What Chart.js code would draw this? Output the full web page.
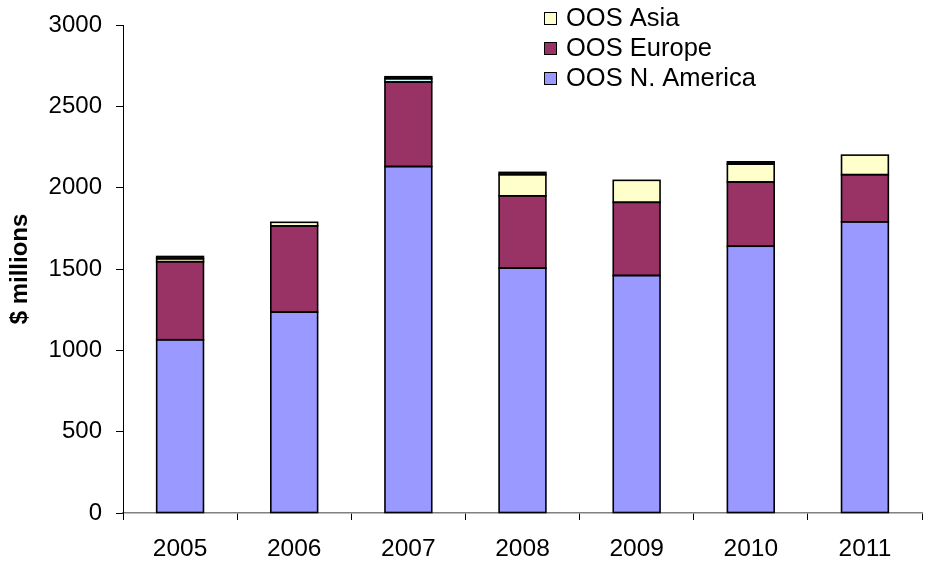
<!DOCTYPE html>
<html>
<head>
<meta charset="utf-8">
<script src="https://cdn.jsdelivr.net/npm/chart.js@4.4.0/dist/chart.umd.min.js"></script>
<style>
  html, body { margin: 0; padding: 0; background: #ffffff; }
  #wrap { width: 930px; height: 565px; position: relative; }
</style>
</head>
<body>
<div id="wrap"><canvas id="c" width="930" height="565"></canvas></div>
<script>
// Out-of-state revenue by region, $ millions
const years = ['2005', '2006', '2007', '2008', '2009', '2010', '2011'];
const naValues = [1065, 1235, 2130, 1505, 1460, 1640, 1790];
const europeValues = [480, 530, 520, 445, 450, 395, 290];
const asiaValues = [18, 22, 20, 130, 135, 110, 120];
const otherValues = [14, 0, 12, 14, 0, 14, 0];
const yTicks = [0, 500, 1000, 1500, 2000, 2500, 3000];

const FONT = "'Liberation Sans', Arial, sans-serif";

// Asia segments are pale yellow, except the 2007 one which is pale cyan
const asiaColors = years.map(y => (y === '2007' ? '#CCFFFF' : '#FFFFCC'));

const barStyle = {
  borderWidth: 0,
  barPercentage: 0.41,
  categoryPercentage: 1.0
};

// Crisp black outline round every stacked segment
const segmentOutline = {
  id: 'segmentOutline',
  afterDatasetsDraw(chart) {
    const ctx = chart.ctx;
    ctx.save();
    ctx.strokeStyle = '#000000';
    ctx.lineWidth = 1.6;
    chart.data.datasets.forEach((ds, di) => {
      const meta = chart.getDatasetMeta(di);
      meta.data.forEach((bar, i) => {
        if (!ds.data[i]) return;
        const p = bar.getProps(['x', 'y', 'base', 'width'], true);
        const left = p.x - p.width / 2;
        const top = Math.min(p.y, p.base);
        const h = Math.abs(p.base - p.y);
        ctx.strokeRect(left, top, p.width, h);
      });
    });
    ctx.restore();
  }
};

// Simple stacked legend, drawn in the upper right of the plot
const boxLegend = {
  id: 'boxLegend',
  afterDraw(chart) {
    const ctx = chart.ctx;
    const items = [
      { label: 'OOS Asia', color: '#FFFFCC' },
      { label: 'OOS Europe', color: '#993366' },
      { label: 'OOS N. America', color: '#9999FF' }
    ];
    ctx.save();
    ctx.font = '25.5px ' + FONT;
    ctx.textBaseline = 'middle';
    ctx.textAlign = 'left';
    items.forEach((it, i) => {
      const cy = 18 + i * 30;
      ctx.fillStyle = it.color;
      ctx.fillRect(544, cy - 6, 13, 13);
      ctx.strokeStyle = '#000000';
      ctx.lineWidth = 1;
      ctx.strokeRect(544.5, cy - 5.5, 12, 12);
      ctx.fillStyle = '#000000';
      ctx.fillText(it.label, 566, cy + 1);
    });
    ctx.restore();
  }
};

new Chart(document.getElementById('c'), {
  type: 'bar',
  data: {
    labels: years,
    datasets: [
      Object.assign({ label: 'OOS N. America', data: naValues, backgroundColor: '#9999FF' }, barStyle),
      Object.assign({ label: 'OOS Europe', data: europeValues, backgroundColor: '#993366' }, barStyle),
      Object.assign({ label: 'OOS Asia', data: asiaValues, backgroundColor: asiaColors }, barStyle),
      Object.assign({ label: 'Other', data: otherValues, backgroundColor: '#111111' }, barStyle)
    ]
  },
  options: {
    responsive: false,
    animation: false,
    layout: { padding: { top: 25, right: 8, left: 0, bottom: 0 } },
    plugins: {
      legend: { display: false },
      tooltip: { enabled: false }
    },
    scales: {
      x: {
        stacked: true,
        border: { display: true, color: '#808080', width: 1.5 },
        grid: { display: true, drawOnChartArea: false, offset: true, tickLength: 7, color: '#000000', tickWidth: 1 },
        ticks: { color: '#000000', font: { family: FONT, size: 24.5 }, padding: 15 },
        afterFit(scale) { scale.height = 52; scale.paddingLeft = 0; scale.paddingRight = 0; }
      },
      y: {
        stacked: true,
        min: 0,
        max: 3000,
        afterBuildTicks(scale) { scale.ticks = yTicks.map(v => ({ value: v })); },
        border: { display: true, color: '#000000', width: 1 },
        grid: { display: true, drawOnChartArea: false, tickLength: 7, color: '#000000' },
        ticks: {
          color: '#000000',
          font: { family: FONT, size: 24 },
          padding: 14,
          callback: v => String(v)
        },
        title: {
          display: true,
          text: '$ millions',
          color: '#000000',
          font: { family: FONT, size: 24, weight: 'bold' },
          padding: { top: 6, bottom: 4 }
        },
        afterFit(scale) { scale.width = 123; scale.paddingTop = 0; scale.paddingBottom = 0; }
      }
    }
  },
  plugins: [segmentOutline, boxLegend]
});
</script>
</body>
</html>
